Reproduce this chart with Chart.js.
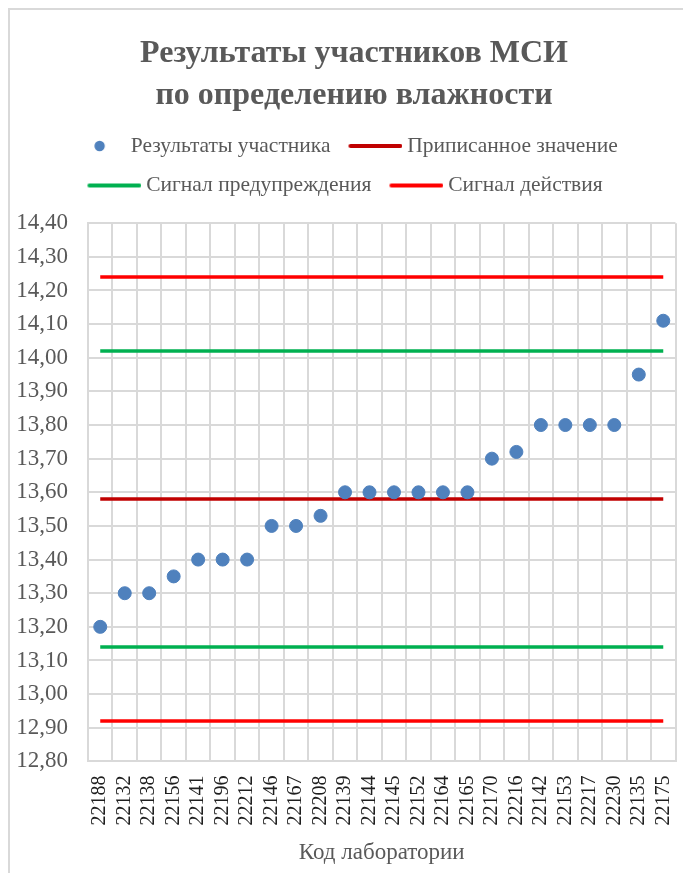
<!DOCTYPE html>
<html lang="ru">
<head>
    <meta charset="UTF-8">
    <title>Результаты участников МСИ</title>
    <style>
        body {
            margin: 0;
            background: #ffffff;
        }
        #wrap {
            width: 683px;
            height: 873px;
        }
    </style>
</head>
<body>
    <div id="wrap"><canvas id="chart"></canvas></div>
    <script src="https://cdn.jsdelivr.net/npm/chart.js"></script>
    <script>
        // коды лабораторий и результаты участников
        const labs = ['22188', '22132', '22138', '22156', '22141', '22196', '22212', '22146', '22167', '22208',
            '22139', '22144', '22145', '22152', '22164', '22165', '22170', '22216', '22142', '22153',
            '22217', '22230', '22135', '22175'];
        const results = [13.20, 13.30, 13.30, 13.35, 13.40, 13.40, 13.40, 13.50, 13.50, 13.53,
            13.60, 13.60, 13.60, 13.60, 13.60, 13.60, 13.70, 13.72, 13.80, 13.80,
            13.80, 13.80, 13.95, 14.11];
        const assigned = 13.58;
        const warning = [13.14, 14.02];
        const action = [12.92, 14.24];

        const serif = "'Liberation Serif', 'Times New Roman', serif";
        const grey = '#595959';
        const gridColor = '#d9d9d9';
        const dotColor = '#4f81bd';

        // горизонтальная линия от первой до последней лаборатории
        function level(y) {
            return [{ x: labs[0], y: y }, { x: labs[labs.length - 1], y: y }];
        }

        // значки легенды: 60x12, центр значка на 24 px от начала элемента
        function legendIcon(color, isDot) {
            const cv = document.createElement('canvas');
            cv.width = 60;
            cv.height = 12;
            const c = cv.getContext('2d');
            if (isDot) {
                c.fillStyle = color;
                c.beginPath();
                c.arc(33.5, 6, 5.2, 0, Math.PI * 2);
                c.fill();
            } else {
                c.strokeStyle = color;
                c.lineWidth = 4;
                c.lineCap = 'round';
                c.beginPath();
                c.moveTo(8, 6);
                c.lineTo(58, 6);
                c.stroke();
            }
            return cv;
        }

        // рамка вокруг диаграммы
        const frame = {
            id: 'frame',
            beforeDraw(chart) {
                const c = chart.ctx;
                c.save();
                c.fillStyle = '#ffffff';
                c.fillRect(0, 0, chart.width, chart.height);
                c.strokeStyle = gridColor;
                c.lineWidth = 2;
                c.strokeRect(9, 9, chart.width + 20, chart.height + 20);
                c.restore();
            }
        };

        // легенда: больше места снизу и небольшой сдвиг влево
        const legendTweak = {
            id: 'legendTweak',
            beforeLayout(chart) {
                const legend = chart.legend;
                if (legend && !legend._patched) {
                    const proto = Object.getPrototypeOf(legend);
                    legend.fit = function () {
                        proto.fit.call(this);
                        this.height += 17;
                    };
                    legend.draw = function () {
                        this.ctx.save();
                        this.ctx.translate(-9, 0);
                        proto.draw.call(this);
                        this.ctx.restore();
                    };
                    legend._patched = true;
                }
            }
        };

        const lineDs = (label, data, color, inLegend) => ({
            label: label,
            data: data,
            borderColor: color,
            backgroundColor: color,
            borderWidth: 3.5,
            pointRadius: 0,
            pointHoverRadius: 0,
            inLegend: inLegend
        });

        new Chart(document.getElementById('chart'), {
            type: 'line',
            data: {
                labels: labs,
                datasets: [
                    {
                        label: 'Результаты участника',
                        data: results,
                        showLine: false,
                        pointRadius: 6.5,
                        pointBackgroundColor: dotColor,
                        pointBorderColor: dotColor,
                        borderColor: dotColor,
                        inLegend: true
                    },
                    lineDs('Приписанное значение', level(assigned), '#c00000', true),
                    lineDs('Сигнал предупреждения', level(warning[1]), '#00b050', true),
                    lineDs('Сигнал действия', level(action[1]), '#ff0000', true),
                    lineDs('Сигнал предупреждения', level(warning[0]), '#00b050', false),
                    lineDs('Сигнал действия', level(action[0]), '#ff0000', false)
                ]
            },
            plugins: [frame, legendTweak],
            options: {
                responsive: true,
                maintainAspectRatio: false,
                animation: false,
                layout: {
                    // правый отступ отрицательный: заголовок центрируется правее,
                    // а край области построения задаёт afterFit оси X
                    padding: { top: 29, left: 0, right: -25, bottom: 6 }
                },
                plugins: {
                    tooltip: { enabled: false },
                    title: {
                        display: true,
                        text: ['Результаты участников МСИ', 'по определению влажности'],
                        color: grey,
                        font: { family: serif, size: 32, weight: 'bold', lineHeight: 1.3 },
                        padding: { top: 4, bottom: 1 }
                    },
                    legend: {
                        labels: {
                            usePointStyle: true,
                            pointStyleWidth: 48,
                            color: grey,
                            padding: 18,
                            font: { family: serif, size: 21.5 },
                            generateLabels(chart) {
                                return chart.data.datasets
                                    .map((ds, i) => ({
                                        text: ds.label,
                                        datasetIndex: i,
                                        fillStyle: ds.borderColor,
                                        strokeStyle: ds.borderColor,
                                        lineWidth: 0,
                                        pointStyle: legendIcon(ds.borderColor, i === 0),
                                        fontColor: grey,
                                        hidden: false,
                                        inLegend: ds.inLegend
                                    }))
                                    .filter(item => item.inLegend);
                            }
                        }
                    }
                },
                scales: {
                    x: {
                        offset: true,
                        grid: { offset: true, color: gridColor, lineWidth: 2, drawTicks: false },
                        border: { color: gridColor, width: 2 },
                        ticks: {
                            minRotation: 90,
                            maxRotation: 90,
                            autoSkip: false,
                            padding: 14,
                            color: '#1f1f1f',
                            font: { family: serif, size: 20 }
                        },
                        title: {
                            display: true,
                            text: 'Код лаборатории',
                            color: grey,
                            font: { family: serif, size: 23 },
                            padding: { top: 0, bottom: 0 }
                        },
                        afterFit(scale) {
                            scale.paddingLeft = 0;
                            scale.paddingRight = 7;
                        }
                    },
                    y: {
                        min: 12.8,
                        max: 14.4,
                        grid: { color: gridColor, lineWidth: 2, drawTicks: false },
                        border: { color: gridColor, width: 2 },
                        ticks: {
                            stepSize: 0.1,
                            padding: 20,
                            color: grey,
                            font: { family: serif, size: 23 },
                            callback: v => v.toFixed(2).replace('.', ',')
                        },
                        afterFit(scale) {
                            scale.width = 88;
                        }
                    }
                }
            }
        });
    </script>
</body>
</html>
